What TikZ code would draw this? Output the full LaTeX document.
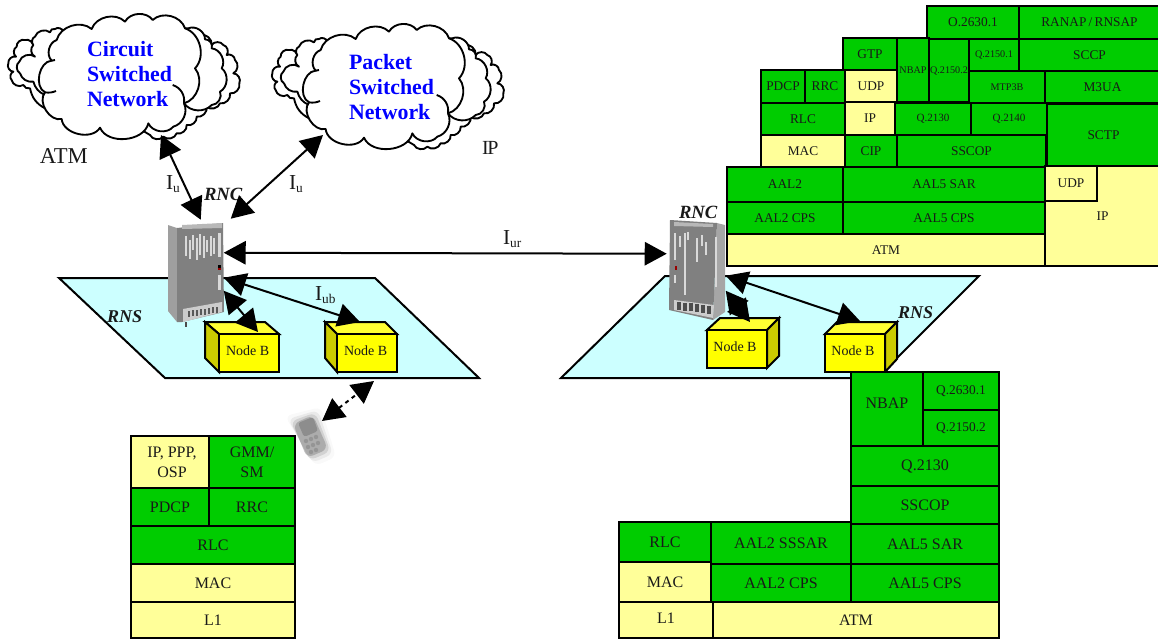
\documentclass[tikz,border=0pt]{standalone}
\usepackage{fontspec}
\setmainfont{Liberation Serif}
\usetikzlibrary{arrows.meta,calc}
\definecolor{cgreen}{HTML}{00CC00}
\definecolor{cyell}{HTML}{FFFF99}
\definecolor{cplane}{HTML}{CCFFFF}
\definecolor{cblue}{HTML}{0000FF}
\definecolor{cnode}{HTML}{FFFF00}
\definecolor{cside}{HTML}{CCCC00}
\definecolor{ctop}{HTML}{FFFF33}
\tikzset{
 ln/.style={line width=1.5pt,line join=miter,draw=black},
 cellbox/.style={ln,inner sep=0pt,outer sep=0pt,anchor=center,align=center,text=black!90},
 conn/.style={line width=1.5pt,{Triangle[length=16.5pt,width=17.5pt]}-{Triangle[length=16.5pt,width=17.5pt]}},
 puff/.style={bend left=58},
 cloudln/.style={line width=1.4pt,fill=white,draw=black,line join=round,every to/.style={puff}},
 lab/.style={inner sep=0pt,outer sep=0pt,anchor=base west,text=black!90},
 nettext/.style={inner sep=0pt,outer sep=0pt,text width=67.5pt,align=left,text=cblue,font=\fontsize{16.4}{18.8}\selectfont\bfseries},
 nb/.style={ln,fill=cnode,inner sep=0pt,outer sep=0pt,minimum width=45pt,minimum height=28.5pt,anchor=north west,font=\fontsize{10.5}{12}\selectfont,text=black!90},
}
\newcommand{\cell}[8]{%
 \node[cellbox,fill=#6,font=\fontsize{#7}{15}\selectfont,minimum width={(#4-#2)*0.75pt},minimum height={(#5-#3)*0.75pt}] (#1) at ({(#2+#4)/2},{(#3+#5)/2}) {#8};}
\newcommand{\isub}[1]{I{\fontsize{10}{10}\selectfont\raisebox{-2.5pt}{#1}}}
\newcommand{\netcloud}[1]{%
 \begin{scope}[shift={#1},x=0.25pt,y=-0.25pt]
 \draw[cloudln] (600,90) to (635,120) to (670,120) to (680,150) to (705,165) to (700,205) to (718,235) to (690,265) to (660,295) to (620,305) to (590,335) to (560,360) to (530,385) to (490,395) to (450,390) -- (300,300) -- (135,310) to[bend left=25] (90,250) to[bend left=40] (70,240) to (35,225) to (40,200) to (25,175) to (48,155) to (50,125) to (75,105) to (100,125) -- cycle;
 \draw[cloudln] (190,80) -- (565,70) to (615,103) to (635,130) to (665,190) to (660,260) to (635,300) to[bend left=50] (552,295) -- (540,270) -- (135,270) to[bend left=25] (100,230) to[bend left=40] (60,205) to (58,170) to (105,155) to (100,120) to (105,95) to (150,82) to (165,72) to (190,80);
 \draw[cloudln] (155,167) to (170,105) to (275,72) to (375,50) to (458,45) to (555,70) to (585,190) to (552,295) to[bend left=50] (520,365) to (445,355) to[bend left=72] (300,368) to[bend left=72] (185,342) to[bend left=72] (135,262) to[bend left=75] (155,167) -- cycle;
 \draw[line width=1.4pt] (518,240) to[bend left=40] (552,295);
 \draw[line width=1.4pt] (135,262) to[bend right=15] (168,258);
 \draw[line width=1.4pt] (155,167) -- (165,165);
 \end{scope}}
\begin{document}
\begin{tikzpicture}[x=0.75pt,y=-0.75pt]
\useasboundingbox (0,0) rectangle (1158,639);
% planes
\draw[ln,fill=cplane] (59,278) -- (375,278) -- (479,378) -- (165,378) -- cycle;
\draw[ln,fill=cplane] (665,276) -- (979,276) -- (877,378) -- (561,378) -- cycle;
% clouds
\netcloud{(0,5)}
\netcloud{(264,15)}
\node[nettext] (csn) at (132,74) {Circuit\\Switched\\Network};
\node[nettext] (psn) at (394,87) {Packet\\Switched\\Network};
% left cabinet
\node[inner sep=0pt,minimum width=43.5pt,minimum height=75pt] (rncL) at (197,273) {};
\fill[gray!75] (168,225) -- (177,228) -- (177,322) -- (168,311) -- cycle;
\fill[black!50] (177,228) -- (223,223) -- (224,312) -- (182,322) -- (177,322) -- cycle;
\fill[black!28] (182,225) -- (222,223) -- (222,228) -- (182,229) -- cycle;
\fill[white!85!black] (218,233) rectangle (221,257);
\fill[white!85!black] (218,275) rectangle (221,290);
\foreach \xa/\ya/\yb in {185/236/256,189/240/259,192/235/250,196/238/260,199/234/255,203/236/258,206/240/252,210/236/256,213/238/254}
  \fill[white!85!black] (\xa,\ya) rectangle ++(1.6,\yb-\ya);
\fill[black] (218,265) rectangle (221,270);
\fill[red!60!black] (218,268) rectangle (221,270);
\fill[white!80!black] (183,309) -- (222,302) -- (222,312) -- (183,322) -- cycle;
\foreach \xa in {188,192,...,216} \fill[black!65] (\xa,{311-(\xa-188)*0.15}) rectangle ++(2,6);
\fill[black!70] (185,322) rectangle (187,327);
% right cabinet
\node[inner sep=0pt,minimum width=42pt,minimum height=75.75pt] (rncR) at (698,269.5) {};
\fill[gray!70] (717,223) -- (725,225) -- (725,312) -- (713,320) -- cycle;
\fill[black!50] (670,220) -- (717,223) -- (713,320) -- (669,310) -- cycle;
\fill[black!28] (674,222) -- (713,224) -- (713,227) -- (674,226) -- cycle;
\foreach \xa/\ya/\yb in {674/233/260,684/233/295,679/236/247,687/232/240,696/238/262,701/235/246,705/242/255,715/237/287,674/275/283}
  \fill[white!85!black] (\xa,\ya) rectangle ++(1.8,\yb-\ya);
\fill[red!60!black] (675,266) rectangle (677,270);
\fill[white!80!black] (674,300) -- (714,305) -- (713,318) -- (674,310) -- cycle;
\foreach \xa in {677,683,...,708} \fill[black!70] (\xa,{302+(\xa-677)*0.12}) rectangle ++(3.5,8);
% node B cubes
\draw[ln,fill=ctop] (205,322) -- (265,322) -- (279,334) -- (219,334) -- cycle;
\draw[ln,fill=cside] (205,322) -- (219,334) -- (219,372) -- (205,358) -- cycle;
\node[nb] (nb1) at (219,334) {\raisebox{3pt}{Node B\hspace{2pt}}};
\draw[ln,fill=ctop] (325,322) -- (385,322) -- (397,334) -- (337,334) -- cycle;
\draw[ln,fill=cside] (325,322) -- (337,334) -- (337,372) -- (325,358) -- cycle;
\node[nb] (nb2) at (337,334) {\raisebox{3pt}{Node B\hspace{2pt}}};
\draw[ln,fill=ctop] (720,318) -- (779,318) -- (767,330) -- (707,330) -- cycle;
\draw[ln,fill=cside] (779,318) -- (779,356) -- (767,368) -- (767,330) -- cycle;
\node[nb] (nb3) at (707,330) {\raisebox{3pt}{Node B\hspace{3pt}}};
\draw[ln,fill=ctop] (837,322) -- (897,322) -- (885,334) -- (825,334) -- cycle;
\draw[ln,fill=cside] (897,322) -- (897,359) -- (885,372) -- (885,334) -- cycle;
\node[nb] (nb4) at (825,334) {\raisebox{3pt}{Node B\hspace{3pt}}};
% phone
\foreach \g/\o/\e in {20/0.12/8,30/0.2/5,40/0.3/2.5,55/0.4/0}
  \fill[black!\g,opacity=\o,rounded corners=5pt] ({293-\e},{424-\e}) -- ({313+\e},{415-\e}) -- ({328+\e},{449+\e}) -- ({307+\e},{458+\e}) -- cycle;
\node[inner sep=0pt,minimum size=9pt] (phone) at (310,436) {};
\fill[black!55,opacity=.55,rounded corners=2pt] (298,423) -- (313,417) -- (318,431) -- (304,437) -- cycle;
\foreach \dx/\dy in {306/441,311/439,316/437,308/447,313/445,318/443,311/452,316/450}
  \fill[black!50,opacity=.5] (\dx,\dy) circle (2.2);
% labels
\node[lab,font=\fontsize{17}{17}\selectfont] (atml) at (40,163) {ATM};
\node[lab,font=\fontsize{15}{15}\selectfont] (ipl) at (482,154) {I\kern-1pt P};
\node[lab,font=\fontsize{16}{16}\selectfont] (iu1) at (166,189) {\isub{u}};
\node[lab,font=\fontsize{16}{16}\selectfont] (iu2) at (289,189) {\isub{u}};
\node[lab,font=\fontsize{16}{16}\selectfont] (iur) at (503,244) {\isub{ur}};
\node[lab,font=\fontsize{16}{16}\selectfont] (iub) at (315,300) {\isub{ub}};
\node[lab,font=\fontsize{14}{14}\selectfont\bfseries\itshape] (rnc1) at (204,200) {RNC};
\node[lab,font=\fontsize{14}{14}\selectfont\bfseries\itshape] (rnc2) at (679,218) {RNC};
\node[lab,font=\fontsize{13.5}{14}\selectfont\bfseries\itshape] (rns1) at (107,322) {RNS};
\node[lab,font=\fontsize{13.5}{14}\selectfont\bfseries\itshape] (rns2) at (898,318) {RNS};
% connectors
\coordinate (planeEnd) at (374,381);
\draw[conn] ($(csn.center)+(29,61)$) -- ($(rncL.north west)+(33,-3)$);
\draw[conn] ($(psn.center)+(-71,48)$) -- ($(rncL.north west)+(63,-4)$);
\draw[conn] ($(rncL.north west)+(56,30)$) -- ($(rncR.north west)+(-3,35)$);
\draw[conn] ($(rncL.north west)+(56,68)$) -- ($(nb1.north west)+(39,-2)$);
\draw[conn] ($(rncL.north west)+(56,55)$) -- ($(nb2.north west)+(23,-12)$);
\draw[conn] ($(rncR.north west)+(56,72)$) -- ($(nb3.north west)+(43,-8)$);
\draw[conn] ($(rncR.north west)+(56,57)$) -- ($(nb4.north west)+(35,-13)$);
\draw[conn,dashed] ($(phone.center)+(12,-15)$) -- (planeEnd);
% top stack
\cell{t1}{927}{6}{1019}{39}{cgreen}{10}{O.2630.1}
\cell{t2}{1019}{6}{1160}{39}{cgreen}{10}{RANAP\,/\,RNSAP}
\cell{t3}{843}{38}{897}{70}{cgreen}{10}{GTP}
\cell{t4}{897}{38}{929}{102}{cgreen}{7.6}{NBAP}
\cell{t5}{929}{39}{969}{102}{cgreen}{7.6}{Q.2150.2}
\cell{t6}{969}{39}{1019}{71}{cgreen}{7.6}{Q.2150.1}
\cell{t7}{1019}{39}{1160}{71}{cgreen}{10}{SCCP}
\cell{t8}{761}{70}{805}{103}{cgreen}{10}{PDCP}
\cell{t9}{805}{70}{845}{103}{cgreen}{10}{RRC}
\cell{t10}{845}{70}{897}{102}{cyell}{10}{UDP}
\cell{t11}{969}{71}{1045}{103}{cgreen}{7.6}{MTP3B}
\cell{t12}{1045}{71}{1160}{103}{cgreen}{10}{M3UA}
\cell{t13}{761}{103}{845}{135}{cgreen}{10}{RLC}
\cell{t14}{845}{102}{895}{135}{cyell}{10}{IP}
\cell{t15}{895}{103}{971}{135}{cgreen}{8.3}{Q.2130}
\cell{t16}{971}{103}{1047}{135}{cgreen}{8.3}{Q.2140}
\cell{t17}{1047}{104}{1160}{166}{cgreen}{10}{SCTP}
\cell{t18}{761}{135}{845}{167}{cyell}{10}{MAC}
\cell{t19}{845}{135}{897}{167}{cgreen}{10}{CIP}
\cell{t20}{897}{135}{1046}{167}{cgreen}{10}{SSCOP}
\cell{t21}{727}{167}{843}{202}{cgreen}{10}{AAL2}
\cell{t22}{843}{167}{1045}{202}{cgreen}{10}{AAL5 SAR}
\cell{t23}{727}{202}{843}{234}{cgreen}{10}{AAL2 CPS}
\cell{t24}{843}{202}{1045}{234}{cgreen}{10}{AAL5 CPS}
\cell{t25}{727}{234}{1045}{266}{cyell}{10}{ATM}
\cell{t26}{1045}{166}{1160}{266}{cyell}{10}{IP}
\cell{t27}{1045}{166}{1097}{201}{cyell}{10}{UDP}
% bottom-right stack
\cell{r1}{851}{372}{923}{446}{cgreen}{12}{\raisebox{9pt}{NBAP}}
\cell{r2}{923}{372}{999}{410}{cgreen}{10}{Q.2630.1}
\cell{r3}{923}{410}{999}{446}{cgreen}{10}{Q.2150.2}
\cell{r4}{851}{446}{999}{486}{cgreen}{12}{Q.2130}
\cell{r5}{851}{486}{999}{524}{cgreen}{12}{SSCOP}
\cell{r6}{619}{522}{711}{562}{cgreen}{12}{RLC}
\cell{r7}{711}{522}{851}{564}{cgreen}{12}{AAL2 SSSAR}
\cell{r8}{851}{524}{999}{564}{cgreen}{12}{AAL5 SAR}
\cell{r9}{619}{562}{711}{602}{cyell}{12}{MAC}
\cell{r10}{711}{564}{851}{602}{cgreen}{12}{AAL2 CPS}
\cell{r11}{851}{564}{999}{602}{cgreen}{12}{AAL5 CPS}
\cell{r12}{619}{602}{713}{638}{cyell}{12}{\raisebox{3pt}{L1}}
\cell{r13}{713}{602}{999}{638}{cyell}{12}{ATM}
% left stack
\cell{l1}{131}{436}{209}{488}{cyell}{12}{\hspace{3pt}IP, PPP,\\\hspace{3pt}OSP}
\cell{l2}{209}{436}{295}{488}{cgreen}{12}{GMM/\\SM}
\cell{l3}{131}{488}{209}{526}{cgreen}{12}{PDCP}
\cell{l4}{209}{488}{295}{526}{cgreen}{12}{RRC}
\cell{l5}{131}{526}{295}{564}{cgreen}{12}{RLC}
\cell{l6}{131}{564}{295}{602}{cyell}{12}{MAC}
\cell{l7}{131}{602}{295}{638}{cyell}{12}{L1}
\end{tikzpicture}
\end{document}
